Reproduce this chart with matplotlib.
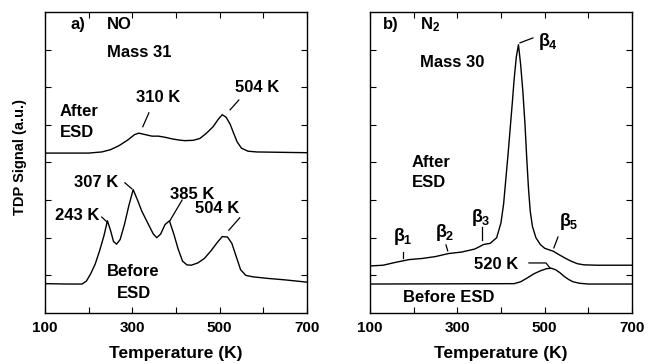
import matplotlib
matplotlib.use('Agg')
import matplotlib.pyplot as plt
from matplotlib.ticker import FixedLocator, NullFormatter

plt.rcParams['font.family'] = ['Liberation Sans', 'DejaVu Sans']
plt.rcParams['font.weight'] = 'bold'
plt.rcParams['axes.labelweight'] = 'bold'
plt.rcParams['font.size'] = 12
plt.rcParams['mathtext.fontset'] = 'custom'
plt.rcParams['mathtext.rm'] = 'Liberation Sans:bold'
plt.rcParams['mathtext.it'] = 'Liberation Sans:bold'
plt.rcParams['mathtext.bf'] = 'Liberation Sans:bold'

# a) NO, mass 31 (arbitrary units, traces stacked)
no_after_T = [100, 200, 230, 250, 270, 290, 305, 315, 330, 345, 360, 375, 390, 405, 420,
              440, 455, 470, 485, 497, 506, 515, 524, 532, 540, 550, 565, 585, 700]
no_after_S = [4.25, 4.25, 4.28, 4.34, 4.45, 4.60, 4.74, 4.78, 4.74, 4.70, 4.70, 4.67, 4.63, 4.60, 4.58,
              4.59, 4.64, 4.78, 4.95, 5.15, 5.27, 5.20, 5.02, 4.78, 4.55, 4.38, 4.30, 4.28, 4.26]

no_before_T = [100, 150, 185, 195, 205, 215, 225, 235, 243, 250, 257, 264, 272, 282, 292, 302,
               312, 322, 335, 348, 356, 365, 375, 385, 395, 405, 415, 425, 435, 450, 465, 480,
               495, 506, 518, 528, 538, 548, 560, 577, 610, 650, 700]
no_before_S = [0.78, 0.77, 0.77, 0.85, 1.05, 1.30, 1.65, 2.05, 2.45, 2.20, 1.90, 1.83, 1.95, 2.35, 2.85, 3.28,
               3.00, 2.70, 2.40, 2.10, 2.00, 2.10, 2.35, 2.45, 2.10, 1.70, 1.38, 1.28, 1.27, 1.33, 1.45, 1.65,
               1.88, 2.03, 2.02, 1.85, 1.50, 1.15, 1.00, 0.96, 0.92, 0.88, 0.82]

# b) N2, mass 30
n2_after_T = [100, 130, 160, 190, 220, 250, 280, 310, 340, 360, 375, 390, 400, 406, 411, 416,
              421, 426, 430, 435, 440, 445, 450, 455, 459, 463, 467, 472, 480, 490, 500, 510,
              520, 530, 545, 560, 575, 590, 620, 700]
n2_after_S = [1.25, 1.27, 1.35, 1.42, 1.45, 1.50, 1.58, 1.62, 1.70, 1.82, 1.85, 2.00, 2.40, 2.90, 3.55, 4.20,
              4.90, 5.60, 6.20, 6.80, 7.13, 6.60, 5.90, 5.00, 4.10, 3.30, 2.70, 2.30, 2.00, 1.82, 1.72, 1.68,
              1.64, 1.57, 1.47, 1.38, 1.31, 1.28, 1.27, 1.27]

n2_before_T = [100, 430, 445, 460, 475, 490, 505, 515, 525, 535, 545, 555, 565, 580, 600, 700]
n2_before_S = [0.77, 0.78, 0.83, 0.93, 1.04, 1.12, 1.18, 1.19, 1.15, 1.07, 0.97, 0.89, 0.83, 0.79, 0.77, 0.77]

fig = plt.figure(figsize=(6.48, 3.64), dpi=100)
ax1 = fig.add_axes([0.0694, 0.1401, 0.4043, 0.827])
ax2 = fig.add_axes([0.571, 0.1401, 0.4043, 0.827])

for ax in (ax1, ax2):
    ax.set_xlim(100, 700)
    ax.set_ylim(0, 8)
    ax.xaxis.set_major_locator(FixedLocator([100, 300, 500, 700]))
    ax.xaxis.set_minor_locator(FixedLocator([200, 400, 600]))
    ax.yaxis.set_major_locator(FixedLocator([1, 2, 3, 4, 5, 6, 7]))
    ax.yaxis.set_major_formatter(NullFormatter())
    ax.tick_params(which='both', direction='in', top=True, right=True, length=4, width=0.8)
    ax.tick_params(axis='x', labelsize=11, pad=6)
    ax.set_xlabel('Temperature (K)', fontsize=12.5, labelpad=8)
    for sp in ax.spines.values():
        sp.set_linewidth(1.0)

lw = 1.0
ax1.plot(no_after_T, no_after_S, color='black', lw=lw)
ax1.plot(no_before_T, no_before_S, color='black', lw=lw)
ax2.plot(n2_after_T, n2_after_S, color='black', lw=lw)
ax2.plot(n2_before_T, n2_before_S, color='black', lw=lw)

# panel a labels
ax1.text(159, 7.66, 'a)', va='center', ha='left')
ax1.text(242, 7.66, 'NO', va='center', ha='left')
ax1.text(242, 6.91, 'Mass 31', va='center', ha='left')
ax1.text(134, 5.35, 'After', va='center', ha='left')
ax1.text(134, 4.79, 'ESD', va='center', ha='left')
ax1.text(360, 5.72, '310 K', va='center', ha='center')
ax1.plot([338, 324], [5.32, 4.95], color='black', lw=0.9)
ax1.text(587, 5.98, '504 K', va='center', ha='center')
ax1.plot([544, 524], [5.66, 5.40], color='black', lw=0.9)
ax1.text(218, 3.46, '307 K', va='center', ha='center')
ax1.plot([283, 299], [3.46, 3.30], color='black', lw=0.9)
ax1.text(174, 2.58, '243 K', va='center', ha='center')
ax1.plot([230, 242], [2.55, 2.42], color='black', lw=0.9)
ax1.text(437, 3.16, '385 K', va='center', ha='center')
ax1.plot([414, 386], [3.0, 2.45], color='black', lw=0.9)
ax1.text(495, 2.79, '504 K', va='center', ha='center')
ax1.plot([546, 521], [2.53, 2.2], color='black', lw=0.9)
ax1.text(301, 1.09, 'Before', va='center', ha='center')
ax1.text(304, 0.53, 'ESD', va='center', ha='center')

# panel b labels
ax2.text(130, 7.66, 'b)', va='center', ha='left')
ax2.text(214, 7.66, r'N$_2$', va='center', ha='left')
ax2.text(214, 6.65, 'Mass 30', va='center', ha='left')
ax2.text(485, 7.21, r'$\beta_4$', va='center', ha='left', fontsize=13)
ax2.plot([443.5, 473], [7.18, 7.31], color='black', lw=0.9)
ax2.text(196, 3.99, 'After', va='center', ha='left')
ax2.text(196, 3.46, 'ESD', va='center', ha='left')
ax2.text(176, 2.02, r'$\beta_1$', va='center', ha='center', fontsize=13)
ax2.plot([175.6, 175.6], [1.62, 1.46], color='black', lw=0.9)
ax2.text(272, 2.15, r'$\beta_2$', va='center', ha='center', fontsize=13)
ax2.plot([274, 278], [1.81, 1.65], color='black', lw=0.9)
ax2.text(354, 2.55, r'$\beta_3$', va='center', ha='center', fontsize=13)
ax2.plot([356, 356], [2.29, 1.94], color='black', lw=0.9)
ax2.text(556, 2.42, r'$\beta_5$', va='center', ha='center', fontsize=13)
ax2.plot([530.5, 521], [2.02, 1.73], color='black', lw=0.9)
ax2.text(388, 1.28, '520 K', va='center', ha='center')
ax2.plot([464, 503, 512], [1.33, 1.33, 1.20], color='black', lw=0.9)
ax2.text(281, 0.40, 'Before ESD', va='center', ha='center')

fig.text(0.031, 0.57, 'TDP Signal (a.u.)', rotation=90, va='center', ha='center', fontsize=10.5)

fig.savefig('out.png', dpi=100)
